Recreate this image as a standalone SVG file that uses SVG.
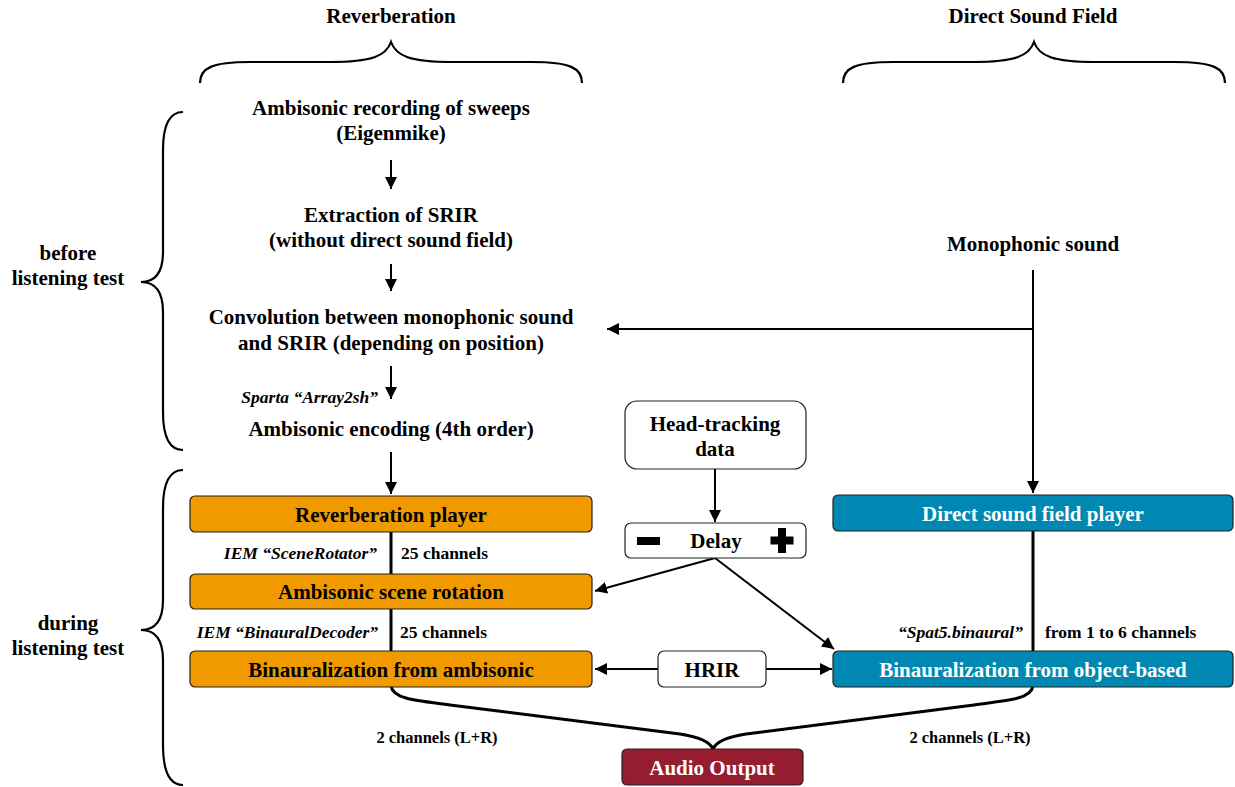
<svg xmlns="http://www.w3.org/2000/svg" width="1235" height="787" viewBox="0 0 1235 787">
<style>
text{font-family:"Liberation Serif","Times New Roman",serif;font-weight:bold;fill:#000}
.h{font-size:21px}
.n{font-size:21px;text-anchor:middle}
.w{fill:#fff}
.l{font-size:17.5px}
.i{font-size:17.5px;font-style:italic;text-anchor:end}
.brace{fill:none;stroke:#000;stroke-width:2.2}
.ln{fill:none;stroke:#000;stroke-width:2}
.thick{fill:none;stroke:#000;stroke-width:3}
.or{fill:#F09A00;stroke:#222;stroke-width:1.2}
.bl{fill:#0088B2;stroke:#222;stroke-width:1.2}
.wh{fill:#fff;stroke:#222;stroke-width:1.2}
.rd{fill:#961C2F;stroke:#222;stroke-width:1.2}
</style>
<defs>
<marker id="a" viewBox="0 0 10 10" refX="10" refY="5" markerWidth="6" markerHeight="6" orient="auto" markerUnits="strokeWidth">
<path d="M0,0 L10,5 L0,10 z" fill="#000"/>
</marker>
</defs>
<rect width="1235" height="787" fill="#fff"/>

<g id="headers">
<text class="h" x="391" y="23" text-anchor="middle">Reverberation</text>
<text class="h" x="1033" y="23" text-anchor="middle">Direct Sound Field</text>
<path class="brace" d="M200,83 C200,68 212,62 250,62 L330,62 C372,62 386,56 391,42 C396,56 410,62 452,62 L532,62 C570,62 582,68 582,83"/>
<path class="brace" d="M843,83 C843,68 855,62 893,62 L973,62 C1015,62 1029,56 1034,42 C1039,56 1053,62 1095,62 L1175,62 C1213,62 1225,68 1225,83"/>
</g>

<g id="phases">
<path class="brace" d="M183,112 C170,112 163,124 163,150 L163,252 C163,272 156,282 141,282 C156,282 163,292 163,312 L163,412 C163,438 170,450 183,450"/>
<text class="h" x="68" y="260" text-anchor="middle">before</text>
<text class="h" x="68" y="285" text-anchor="middle">listening test</text>
<path class="brace" d="M183,470 C170,470 163,482 163,508 L163,600 C163,620 156,630 141,630 C156,630 163,640 163,660 L163,745 C163,772 170,785 183,785"/>
<text class="h" x="68" y="630" text-anchor="middle">during</text>
<text class="h" x="68" y="655" text-anchor="middle">listening test</text>
</g>

<g id="connectors">
<line class="ln" x1="391" y1="160" x2="391" y2="189" marker-end="url(#a)"/>
<line class="ln" x1="391" y1="264" x2="391" y2="291" marker-end="url(#a)"/>
<line class="ln" x1="391" y1="366" x2="391" y2="399" marker-end="url(#a)"/>
<line class="ln" x1="391" y1="452" x2="391" y2="494" marker-end="url(#a)"/>
<line class="ln" x1="1033" y1="270" x2="1033" y2="493" marker-end="url(#a)"/>
<line class="ln" x1="1033" y1="329" x2="607" y2="329" marker-end="url(#a)"/>
<line class="thick" x1="391" y1="532" x2="391" y2="574"/>
<line class="thick" x1="391" y1="608" x2="391" y2="651"/>
<line class="thick" x1="1033" y1="530" x2="1033" y2="651"/>
<line class="ln" x1="715" y1="469" x2="715" y2="522" marker-end="url(#a)"/>
<line class="ln" x1="715" y1="558" x2="595" y2="591" marker-end="url(#a)"/>
<line class="ln" x1="715" y1="558" x2="834" y2="649" marker-end="url(#a)"/>
<line class="ln" x1="658" y1="669" x2="595" y2="669" marker-end="url(#a)"/>
<line class="ln" x1="766" y1="669" x2="832" y2="669" marker-end="url(#a)"/>
<path class="thick" d="M391,686 C393,698 410,700 450,705 L680,734 C700,737 710,742 713,749"/>
<path class="thick" d="M1033,686 C1031,698 1014,700 974,705 L746,734 C726,737 716,742 713,749"/>
</g>

<g id="labels">
<text class="i" x="378" y="403">Sparta “Array2sh”</text>
<text class="i" x="377" y="559">IEM “SceneRotator”</text>
<text class="l" x="401" y="559">25 channels</text>
<text class="i" x="378" y="638">IEM “BinauralDecoder”</text>
<text class="l" x="400" y="638">25 channels</text>
<text class="i" x="1023" y="638">“Spat5.binaural”</text>
<text class="l" x="1045" y="638">from 1 to 6 channels</text>
<text class="l" x="437" y="743" text-anchor="middle" style="font-size:16.5px">2 channels (L+R)</text>
<text class="l" x="970" y="743" text-anchor="middle" style="font-size:16.5px">2 channels (L+R)</text>
</g>

<g id="n-recording">
<text class="n" x="391" y="115">Ambisonic recording of sweeps</text>
<text class="n" x="391" y="140">(Eigenmike)</text>
</g>
<g id="n-extraction">
<text class="n" x="391" y="222">Extraction of SRIR</text>
<text class="n" x="391" y="247">(without direct sound field)</text>
</g>
<g id="n-convolution">
<text class="n" x="391" y="324">Convolution between monophonic sound</text>
<text class="n" x="391" y="350">and SRIR (depending on position)</text>
</g>
<g id="n-encoding">
<text class="n" x="391" y="436">Ambisonic encoding (4th order)</text>
</g>
<g id="n-mono">
<text class="n" x="1033" y="251">Monophonic sound</text>
</g>
<g id="n-revplayer">
<rect class="or" x="190" y="496" width="402" height="36" rx="5"/>
<text class="n" x="391" y="522">Reverberation player</text>
</g>
<g id="n-rotation">
<rect class="or" x="190" y="574" width="402" height="35" rx="5"/>
<text class="n" x="391" y="599">Ambisonic scene rotation</text>
</g>
<g id="n-binamb">
<rect class="or" x="190" y="651" width="402" height="36" rx="5"/>
<text class="n" x="391" y="677">Binauralization from ambisonic</text>
</g>
<g id="n-directplayer">
<rect class="bl" x="833" y="495" width="400" height="36" rx="5"/>
<text class="n w" x="1033" y="521">Direct sound field player</text>
</g>
<g id="n-binobj">
<rect class="bl" x="833" y="651" width="400" height="36" rx="5"/>
<text class="n w" x="1033" y="677">Binauralization from object-based</text>
</g>
<g id="n-headtracking">
<rect class="wh" x="625" y="401" width="181" height="68" rx="12"/>
<text class="n" x="715" y="431">Head-tracking</text>
<text class="n" x="715" y="456">data</text>
</g>
<g id="n-delay">
<rect class="wh" x="625" y="523" width="181" height="35" rx="6"/>
<rect x="637" y="537" width="23" height="8" fill="#000"/>
<path d="M778,528 h8 v8.5 h7.5 v8 h-7.5 v8.5 h-8 v-8.5 h-7.5 v-8 h7.5 z" fill="#000"/>
<text class="n" x="716" y="548">Delay</text>
</g>
<g id="n-hrir">
<rect class="wh" x="658" y="651" width="108" height="36" rx="6"/>
<text class="n" x="712" y="677">HRIR</text>
</g>
<g id="n-output">
<rect class="rd" x="622" y="749" width="181" height="36" rx="5"/>
<text class="n w" x="712" y="775">Audio Output</text>
</g>
</svg>
